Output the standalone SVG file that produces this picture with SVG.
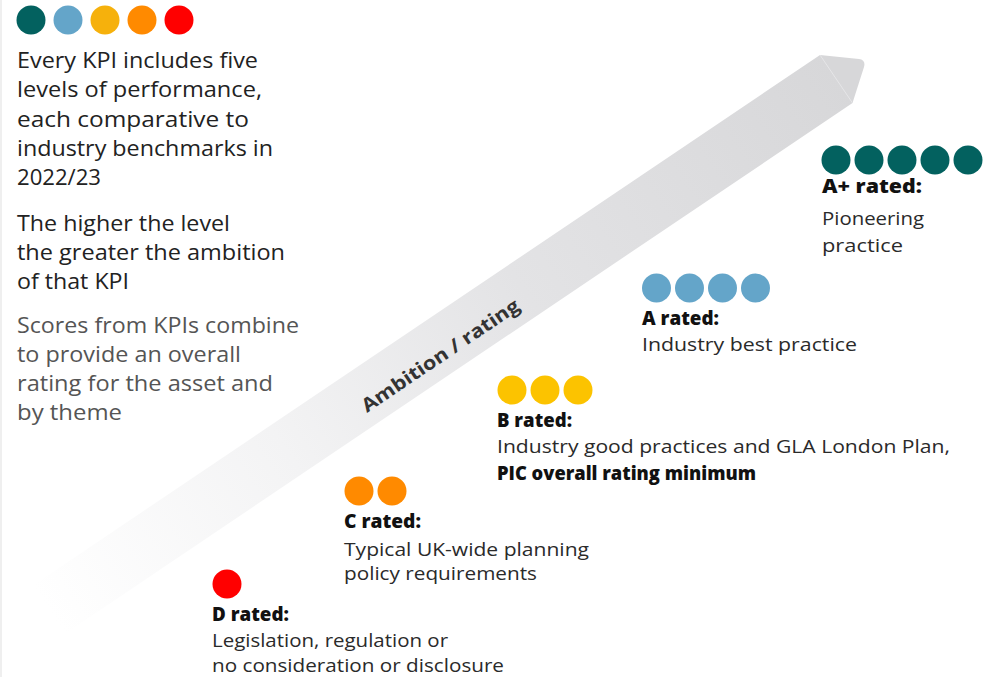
<svg xmlns="http://www.w3.org/2000/svg" width="984" height="677" viewBox="0 0 984 677">
  <defs>
    <linearGradient id="bandFill" gradientUnits="userSpaceOnUse" x1="49" y1="610" x2="840" y2="78">
      <stop offset="0" stop-color="#ffffff"/>
      <stop offset="0.3" stop-color="#f3f3f4"/>
      <stop offset="0.6" stop-color="#e3e3e5"/>
      <stop offset="1" stop-color="#d7d7d9"/>
    </linearGradient>
    <style>
      .lead { font-family: "Open Sans", "Liberation Sans", sans-serif; font-size: 21px; fill: #222222; }
      .note { font-family: "Open Sans", "Liberation Sans", sans-serif; font-size: 21px; fill: #555555; }
      .body { font-family: "Open Sans", "Liberation Sans", sans-serif; font-size: 18.5px; fill: #2a2a2a; }
      .head { font-family: "Open Sans", "Liberation Sans", sans-serif; font-size: 18.5px; font-weight: 800; fill: #111111; }
      .axis { font-family: "Open Sans", "Liberation Sans", sans-serif; font-size: 19px; font-weight: 700; fill: #333333; }
      .teal { fill: #03615f; }
      .blue { fill: #64a5c9; }
      .amber { fill: #f6b10c; }
      .gold { fill: #fcc300; }
      .orange { fill: #ff8a00; }
      .red { fill: #ff0000; }
    </style>
  </defs>

  <rect x="0" y="0" width="984" height="677" fill="#ffffff"/>
  <rect x="0" y="0" width="2" height="677" fill="#efefef"/>

  <!-- ambition band running bottom-left to top-right -->
  <g id="ambition-band">
    <path d="M 33,585.5 L 820,55 L 859,59 Q 866,60 864,67 L 852.5,103 L 69,631 Q 65,634 61,630 Z" fill="url(#bandFill)"/>
    <line x1="820" y1="55" x2="852.5" y2="103" stroke="#e6e6e8" stroke-width="1"/>
    <text class="axis" x="444" y="361" text-anchor="middle" transform="rotate(-34 444 361)" textLength="186" lengthAdjust="spacingAndGlyphs">Ambition / rating</text>
  </g>

  <!-- legend: five levels -->
  <g id="legend">
    <circle class="teal" cx="31" cy="20" r="14.5"/>
    <circle class="blue" cx="68" cy="20" r="14.5"/>
    <circle class="amber" cx="105" cy="20" r="14.5"/>
    <circle class="orange" cx="142" cy="20" r="14.5"/>
    <circle class="red" cx="179" cy="20" r="14.5"/>
    <text class="lead" x="17" y="68" textLength="241" lengthAdjust="spacingAndGlyphs">Every KPI includes five</text>
    <text class="lead" x="17" y="97" textLength="245" lengthAdjust="spacingAndGlyphs">levels of performance,</text>
    <text class="lead" x="17" y="127" textLength="232" lengthAdjust="spacingAndGlyphs">each comparative to</text>
    <text class="lead" x="17" y="156" textLength="256" lengthAdjust="spacingAndGlyphs">industry benchmarks in</text>
    <text class="lead" x="17" y="185" textLength="84" lengthAdjust="spacingAndGlyphs">2022/23</text>
    <text class="lead" x="17" y="231" textLength="213" lengthAdjust="spacingAndGlyphs">The higher the level</text>
    <text class="lead" x="17" y="260" textLength="268" lengthAdjust="spacingAndGlyphs">the greater the ambition</text>
    <text class="lead" x="17" y="289" textLength="112" lengthAdjust="spacingAndGlyphs">of that KPI</text>
    <text class="note" x="17" y="333" textLength="282" lengthAdjust="spacingAndGlyphs">Scores from KPIs combine</text>
    <text class="note" x="17" y="362" textLength="224" lengthAdjust="spacingAndGlyphs">to provide an overall</text>
    <text class="note" x="17" y="391" textLength="256" lengthAdjust="spacingAndGlyphs">rating for the asset and</text>
    <text class="note" x="17" y="420" textLength="105" lengthAdjust="spacingAndGlyphs">by theme</text>
  </g>

  <!-- rating levels -->
  <g id="rating-aplus">
    <circle class="teal" cx="836" cy="160" r="14.5"/>
    <circle class="teal" cx="869" cy="160" r="14.5"/>
    <circle class="teal" cx="902" cy="160" r="14.5"/>
    <circle class="teal" cx="935" cy="160" r="14.5"/>
    <circle class="teal" cx="968" cy="160" r="14.5"/>
    <text class="head" x="822" y="193" textLength="100" lengthAdjust="spacingAndGlyphs">A+ rated:</text>
    <text class="body" x="822" y="225" textLength="102" lengthAdjust="spacingAndGlyphs">Pioneering</text>
    <text class="body" x="822" y="252" textLength="81" lengthAdjust="spacingAndGlyphs">practice</text>
  </g>

  <g id="rating-a">
    <circle class="blue" cx="656.5" cy="288" r="14.5"/>
    <circle class="blue" cx="689.5" cy="288" r="14.5"/>
    <circle class="blue" cx="722.5" cy="288" r="14.5"/>
    <circle class="blue" cx="755.5" cy="288" r="14.5"/>
    <text class="head" x="642" y="325" textLength="77" lengthAdjust="spacingAndGlyphs">A rated:</text>
    <text class="body" x="642" y="351" textLength="215" lengthAdjust="spacingAndGlyphs">Industry best practice</text>
  </g>

  <g id="rating-b">
    <circle class="gold" cx="512" cy="390" r="14.5"/>
    <circle class="gold" cx="545" cy="390" r="14.5"/>
    <circle class="gold" cx="578" cy="390" r="14.5"/>
    <text class="head" x="497" y="427" textLength="75" lengthAdjust="spacingAndGlyphs">B rated:</text>
    <text class="body" x="497" y="453" textLength="453" lengthAdjust="spacingAndGlyphs">Industry good practices and GLA London Plan,</text>
    <text class="head" x="497" y="480" textLength="259" lengthAdjust="spacingAndGlyphs">PIC overall rating minimum</text>
  </g>

  <g id="rating-c">
    <circle class="orange" cx="359" cy="491" r="14.5"/>
    <circle class="orange" cx="392" cy="491" r="14.5"/>
    <text class="head" x="344" y="528" textLength="77" lengthAdjust="spacingAndGlyphs">C rated:</text>
    <text class="body" x="344" y="556" textLength="245" lengthAdjust="spacingAndGlyphs">Typical UK-wide planning</text>
    <text class="body" x="344" y="580" textLength="193" lengthAdjust="spacingAndGlyphs">policy requirements</text>
  </g>

  <g id="rating-d">
    <circle class="red" cx="227" cy="584" r="14.5"/>
    <text class="head" x="212" y="621" textLength="77" lengthAdjust="spacingAndGlyphs">D rated:</text>
    <text class="body" x="212" y="647" textLength="236" lengthAdjust="spacingAndGlyphs">Legislation, regulation or</text>
    <text class="body" x="212" y="672" textLength="292" lengthAdjust="spacingAndGlyphs">no consideration or disclosure</text>
  </g>
</svg>
